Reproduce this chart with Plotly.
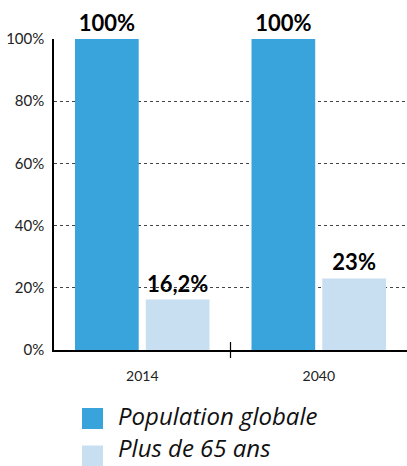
import plotly.graph_objects as go

categories = ["2014", "2040"]
population_globale = [100, 100]
plus_65 = [16.2, 23]
labels_globale = ["100%", "100%"]
labels_65 = ["16,2%", "23%"]
y_ticks = [0, 20, 40, 60, 80, 100]
series_names = ["Population globale", "Plus de 65 ans"]
colors = ["#39A3DC", "#C8DEF1"]

W, H = 407, 466
L, R, T, B = 54, 0, 39, 116
plot_h = H - T - B
plot_w = W - L - R

def py(p):
    return (H - B - p) / plot_h

def px(p):
    return (p - L) / plot_w

fig = go.Figure()
for vals, txt, name, col in [(population_globale, labels_globale, series_names[0], colors[0]),
                             (plus_65, labels_65, series_names[1], colors[1])]:
    fig.add_trace(go.Bar(
        x=categories, y=vals, name=name, marker=dict(color=col, line=dict(width=0)),
        text=txt, textposition="outside", cliponaxis=False,
        textfont=dict(family="Lato", size=22, color="#000000", weight="bold"),
        showlegend=False, hoverinfo="skip",
    ))

# category boundary tick
fig.add_shape(type="line", xref="x", yref="paper", x0=0.5, x1=0.5,
              y0=py(358), y1=py(342), line=dict(color="#000000", width=1.2))

# legend
for i, (name, col) in enumerate(zip(series_names, colors)):
    cy = [418.5, 456][i]
    fig.add_shape(type="rect", xref="paper", yref="paper",
                  x0=px(82), x1=px(103), y0=py(cy + 10.5), y1=py(cy - 10.5),
                  fillcolor=col, line=dict(width=0))
    fig.add_annotation(xref="paper", yref="paper", x=px(116), y=py(min(cy + 15, 466)),
                       xanchor="left", yanchor="bottom", showarrow=False,
                       text=f"<i>{name}</i>",
                       font=dict(family="Open Sans", size=24, color="#111111"))

fig.update_layout(
    width=W, height=H,
    margin=dict(l=L, r=R, t=T, b=B, pad=0, autoexpand=False),
    paper_bgcolor="white", plot_bgcolor="white",
    barmode="group", bargap=0.198, bargroupgap=0.1,
    showlegend=False,
)
fig.update_xaxes(
    showline=True, linecolor="#000000", linewidth=1.8,
    showgrid=False, ticks="", range=[-0.5, 1.5], automargin=False,
    ticklabelstandoff=12,
    tickfont=dict(family="Lato", size=14, color="#222222"),
)
fig.update_yaxes(
    range=[0, 100], tickvals=y_ticks, ticktext=[f"{v}%" for v in y_ticks],
    showline=True, linecolor="#000000", linewidth=1.5, automargin=False,
    showgrid=True, gridcolor="#444444", gridwidth=1, griddash="dot",
    zeroline=False, ticks="", ticklabelstandoff=5,
    tickfont=dict(family="Lato", size=15, color="#222222"),
)

fig.write_html("out.html", config={"displayModeBar": False},
               post_script="document.body.style.margin='0';document.body.style.overflow='hidden';")
